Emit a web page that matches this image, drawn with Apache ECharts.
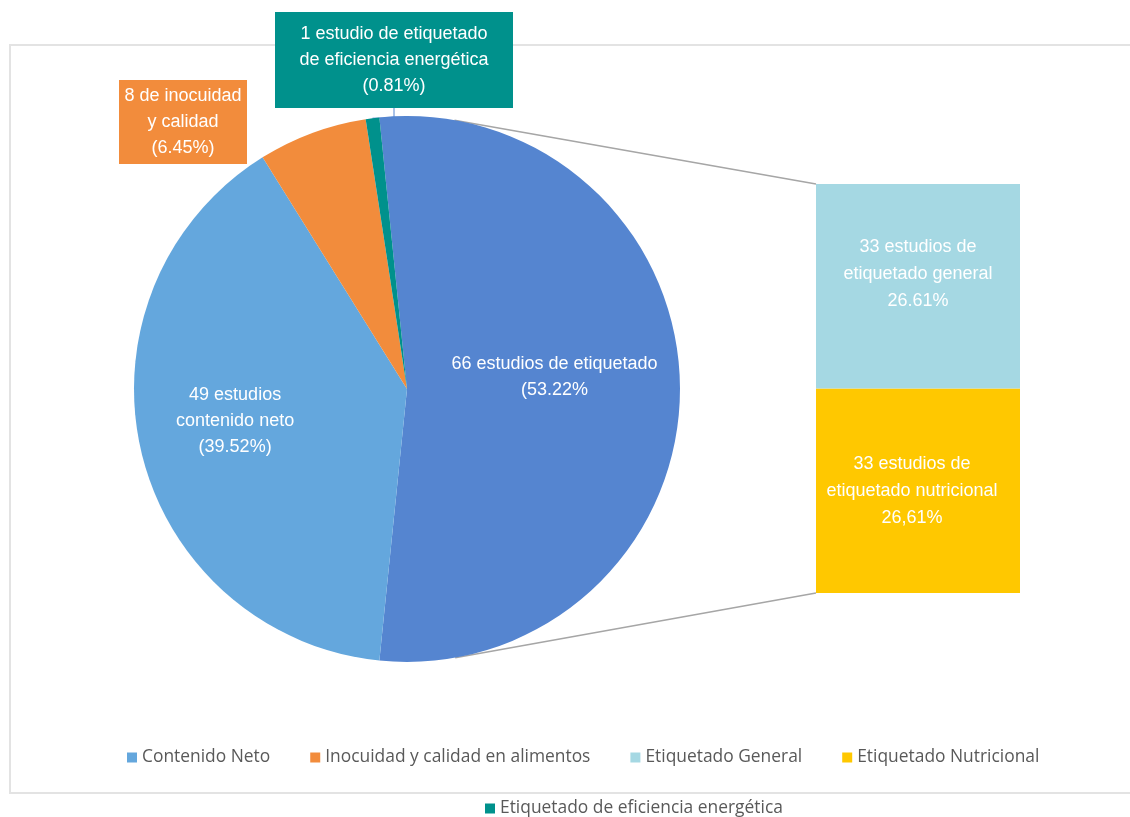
<!DOCTYPE html>
<html>
<head>
<meta charset="utf-8">
<title>Estudios por tipo</title>
<script src="https://cdn.jsdelivr.net/npm/echarts@6/dist/echarts.min.js"></script>
<style>
  html, body { margin: 0; padding: 0; background: #fff; }
  #chart { width: 1130px; height: 817px; }
</style>
</head>
<body>
<div id="chart"></div>
<script>
// datos del pastel (la primera porción es la que se desglosa en la barra)
const pieNames = ['Etiquetado', 'Contenido Neto', 'Inocuidad y calidad en alimentos', 'Etiquetado de eficiencia energética']
const pieValues = [66, 49, 8, 1]
const pieLabels = [
  '66 estudios de etiquetado\n(53.22%',
  '49 estudios\ncontenido neto\n(39.52%)',
  '8 de inocuidad\ny calidad\n(6.45%)',
  '1 estudio de etiquetado\nde eficiencia energética\n(0.81%)'
]

// desglose de etiquetado (de abajo hacia arriba)
const barNames = ['Etiquetado Nutricional', 'Etiquetado General']
const barValues = [33, 33]
const barLabels = [
  '33 estudios de\netiquetado nutricional\n26,61%',
  '33 estudios de\netiquetado general\n26.61%'
]

const pieColors = ['#5585d0', '#64a7dd', '#f28c3c', '#00918c']
const barColors = ['#ffc800', '#a5d8e3']

// geometria
const cx = 407, cy = 389, R = 273
const barBox = { left: 816, top: 184, width: 204, height: 409 }

const total = pieValues.reduce((a, b) => a + b, 0)
const barTotal = barValues.reduce((a, b) => a + b, 0)
// la porción desglosada queda centrada a la derecha
const startAngle = pieValues[0] / total * 180

function tangent (px, py, upper) {
  const dx = px - cx, dy = py - cy
  const d = Math.hypot(dx, dy)
  const base = Math.atan2(dy, dx)
  const off = Math.acos(R / d)
  const a = upper ? base - off : base + off
  return [cx + R * Math.cos(a), cy + R * Math.sin(a)]
}

const topCorner = [barBox.left, barBox.top]
const botCorner = [barBox.left, barBox.top + barBox.height]
const t1 = tangent(topCorner[0], topCorner[1], true)
const t2 = tangent(botCorner[0], botCorner[1], false)

const labelFont = 'Liberation Sans, Arial, sans-serif'
const legendText = { fontFamily: 'Open Sans', fontSize: 17.4, color: '#595959' }

const pieData = pieValues.map((v, i) => {
  const item = {
    name: pieNames[i],
    value: v,
    itemStyle: { color: pieColors[i] },
    label: { formatter: pieLabels[i] }
  }
  if (i === 2) {
    item.label = {
      formatter: pieLabels[i],
      position: 'outside',
      backgroundColor: pieColors[i],
      width: 128,
      overflow: 'none',
      padding: [3, 0],
      align: 'center'
    }
    item.labelLine = { show: false }
  } else if (i === 3) {
    item.label = {
      formatter: pieLabels[i],
      position: 'outside',
      backgroundColor: pieColors[i],
      width: 218,
      overflow: 'none',
      padding: [9, 10],
      align: 'center'
    }
    item.labelLine = { show: true, length: 10, length2: 10, lineStyle: { color: '#5585d0', width: 1 } }
  }
  return item
})

const chart = echarts.init(document.getElementById('chart'))

chart.setOption({
  animation: false,
  backgroundColor: '#fff',
  graphic: [
    {
      type: 'rect',
      shape: { x: 10, y: 45, width: 1130, height: 748 },
      style: { fill: 'none', stroke: '#e3e3e3', lineWidth: 2 },
      z: -1
    },
    {
      type: 'line',
      shape: { x1: t1[0], y1: t1[1], x2: topCorner[0], y2: topCorner[1] },
      style: { stroke: '#a6a6a6', lineWidth: 1.5 }
    },
    {
      type: 'line',
      shape: { x1: t2[0], y1: t2[1], x2: botCorner[0], y2: botCorner[1] },
      style: { stroke: '#a6a6a6', lineWidth: 1.5 }
    }
  ],
  legend: [
    {
      data: [pieNames[1], pieNames[2], barNames[1], barNames[0]],
      left: 122,
      top: 744,
      icon: 'rect',
      itemWidth: 10,
      itemHeight: 10,
      itemGap: 40,
      selectedMode: false,
      textStyle: legendText
    },
    {
      data: [pieNames[3]],
      left: 480,
      top: 795,
      icon: 'rect',
      itemWidth: 10,
      itemHeight: 10,
      selectedMode: false,
      textStyle: legendText
    }
  ],
  grid: {
    left: barBox.left,
    top: barBox.top,
    width: barBox.width,
    height: barBox.height
  },
  xAxis: { type: 'category', data: ['Etiquetado'], show: false },
  yAxis: { type: 'value', min: 0, max: barTotal, show: false },
  series: [
    {
      type: 'pie',
      center: [cx, cy],
      radius: R,
      startAngle: startAngle,
      clockwise: true,
      avoidLabelOverlap: false,
      emphasis: { disabled: true },
      itemStyle: { borderWidth: 0 },
      label: {
        position: 'inside',
        color: '#fff',
        fontFamily: labelFont,
        fontSize: 18,
        lineHeight: 26,
        align: 'center'
      },
      labelLayout: function (p) {
        if (p.dataIndex === 0) return { dx: 8, dy: -12 }
        if (p.dataIndex === 1) return { dx: -36 }
        if (p.dataIndex === 2) return { x: 183, y: 122, align: 'center', verticalAlign: 'middle' }
        if (p.dataIndex === 3) return { x: 394, y: 60, align: 'center', verticalAlign: 'middle' }
      },
      data: pieData
    },
    ...barValues.map((v, i) => ({
      name: barNames[i],
      type: 'bar',
      stack: 'etiquetado',
      barWidth: '100%',
      itemStyle: { color: barColors[i] },
      emphasis: { disabled: true },
      label: {
        show: true,
        position: 'inside',
        formatter: barLabels[i],
        color: '#fff',
        fontFamily: labelFont,
        fontSize: 18,
        lineHeight: 27,
        align: 'center'
      },
      labelLayout: i === 1 ? { dy: -12 } : { dx: -6 },
      data: [v]
    }))
  ]
})
</script>
</body>
</html>
